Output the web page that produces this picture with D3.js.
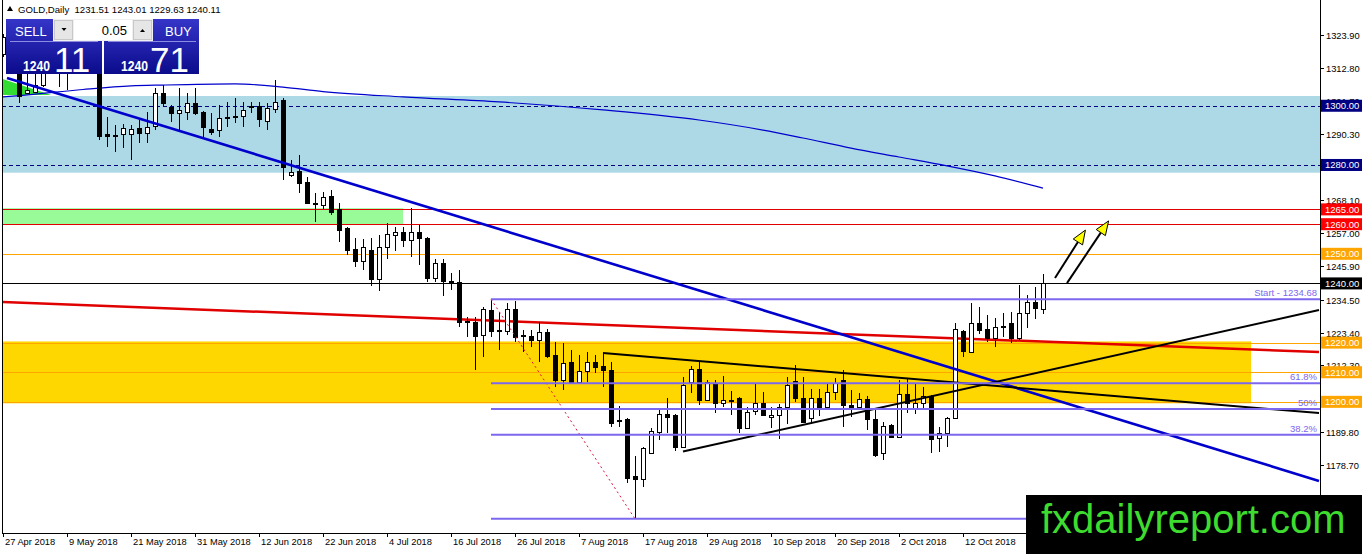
<!DOCTYPE html>
<html><head><meta charset="utf-8">
<script src="https://cdn.jsdelivr.net/npm/d3@7"></script>
<style>html,body{margin:0;padding:0;background:#fff;overflow:hidden}svg{display:block}</style>
</head><body><svg id="c" width="1362" height="554"></svg>
<script>
// ---------------- DATA ----------------
const symbolTitle = "GOLD,Daily";
const lastQuote = ["1231.51","1243.01","1229.63","1240.11"];
const openP = [1317.4,1323.2,1315.4,1304.3,1304.6,1307.0,1312.0,1314.5,1313.0,1313.5,1320.5,1319.0,1317.5,
1290.3,1290.2,1290.5,1290.5,1292.4,1290.7,1293.0,1304.2,1299.7,1297.5,1298.0,1301.1,1298.0,1292.0,1291.8,1296.0,
1296.2,1296.5,1299.8,1299.9,1295.0,1298.8,1302.0,1276.6,1278.0,1274.4,1267.2,1266.5,1269.5,1265.0,1258.6,1251.5,
1247.7,1251.3,1241.4,1252.2,1256.4,1257.5,1254.7,1257.5,1255.2,1241.7,1246.8,1240.9,1240.6,1227.3,1227.1,1222.6,
1231.0,1224.1,1224.0,1231.3,1222.7,1222.3,1220.9,1223.5,1215.8,1207.4,1213.4,1206.8,1210.5,1213.4,1212.1,1210.8,
1193.8,1194.1,1175.0,1173.8,1182.8,1189.9,1195.8,1195.6,1184.9,1206.8,1211.0,1200.6,1206.5,1199.7,1200.7,1201.2,
1191.1,1196.9,1199.7,1194.8,1195.6,1198.2,1207.0,1201.2,1194.4,1201.2,1198.2,1203.4,1207.4,1198.9,1198.4,1200.9,
1194.1,1182.6,1192.2,1188.2,1202.6,1197.8,1199.7,1202.0,1187.7,1189.4,1194.4,1223.9,1216.7,1226.7,1224.5,1221.7,
1225.5,1226.7,1221.5,1229.9,1233.8,1231.51];
const highP = [1324.4,1323.9,1316.0,1311.0,1316.5,1315.0,1316.8,1317.5,1317.0,1322.0,1325.0,1323.5,1318.5,
1296.3,1293.5,1293.8,1293.5,1295.2,1298.0,1305.9,1307.0,1300.3,1305.9,1304.2,1305.9,1298.3,1297.5,1300.3,1301.4,
1302.5,1301.4,1301.4,1301.4,1300.8,1308.7,1302.5,1281.7,1283.4,1276.1,1270.4,1270.8,1271.6,1267.0,1259.2,1255.3,
1255.0,1255.3,1256.4,1260.5,1259.2,1259.2,1265.4,1259.8,1255.8,1248.3,1248.3,1243.4,1244.5,1228.8,1228.8,1232.2,
1234.68,1230.5,1233.5,1234.2,1224.3,1224.3,1226.8,1224.5,1220.3,1219.8,1217.5,1215.8,1217.0,1215.8,1217.0,1213.6,
1198.6,1194.4,1181.7,1184.9,1191.1,1197.3,1201.2,1195.8,1208.5,1212.1,1213.9,1207.4,1207.4,1208.7,1203.8,1201.8,
1198.2,1206.3,1203.4,1198.4,1199.3,1208.5,1212.5,1208.5,1204.5,1204.5,1206.3,1207.9,1210.8,1204.0,1202.9,1202.0,
1197.2,1193.3,1192.4,1207.4,1207.9,1206.3,1205.1,1202.3,1191.6,1195.0,1226.5,1224.3,1233.3,1232.2,1229.3,1228.2,
1230.1,1230.5,1239.5,1236.1,1238.7,1243.01];
const lowP = [1316.6,1312.1,1301.0,1304.0,1304.2,1306.5,1311.0,1306.5,1305.3,1312.0,1316.5,1315.5,1288.4,
1286.0,1284.5,1285.6,1281.7,1287.3,1287.3,1291.8,1299.7,1294.6,1291.3,1295.2,1296.9,1289.6,1290.1,1289.3,1292.9,
1294.1,1292.9,1297.5,1292.9,1291.8,1297.5,1274.9,1276.1,1270.4,1267.1,1260.9,1265.0,1263.1,1254.0,1249.5,1245.6,
1244.5,1239.0,1237.5,1248.3,1250.8,1252.4,1248.8,1246.1,1240.6,1240.6,1235.9,1237.8,1225.4,1222.0,1210.8,1215.3,
1222.0,1217.5,1222.6,1220.3,1216.9,1218.6,1213.6,1214.7,1205.1,1204.0,1206.3,1206.6,1206.8,1209.6,1205.1,1191.4,
1191.6,1172.7,1160.5,1171.4,1182.6,1187.1,1189.4,1183.5,1184.3,1202.9,1198.9,1200.4,1196.1,1198.2,1195.6,1189.4,
1190.7,1195.6,1195.2,1191.1,1187.3,1192.5,1200.1,1192.7,1192.5,1195.2,1197.8,1200.6,1191.6,1195.0,1197.8,1190.5,
1181.5,1180.4,1187.7,1187.7,1196.1,1195.9,1197.2,1182.8,1183.2,1184.9,1194.1,1215.0,1216.4,1222.9,1220.3,1218.4,
1222.0,1220.0,1220.9,1224.8,1227.9,1229.63];
const closeP = [1323.2,1315.4,1303.3,1305.4,1307.0,1312.0,1314.5,1313.0,1313.5,1320.5,1319.0,1317.5,1289.8,
1289.9,1290.0,1292.4,1292.0,1290.7,1292.7,1304.2,1300.8,1297.5,1298.6,1300.8,1297.7,1292.7,1291.3,1295.8,1296.2,
1296.4,1298.6,1300.0,1295.4,1299.1,1301.4,1279.4,1277.7,1274.0,1267.3,1266.9,1269.1,1264.2,1258.0,1251.3,1247.7,
1252.2,1241.4,1252.4,1256.7,1257.5,1254.7,1257.5,1255.3,1241.7,1246.8,1240.9,1240.4,1227.1,1227.0,1222.3,1231.3,
1224.0,1223.9,1231.3,1222.0,1222.5,1220.9,1223.5,1215.6,1207.4,1213.0,1206.6,1210.5,1213.4,1211.9,1210.8,1193.0,
1193.5,1174.4,1173.8,1184.3,1190.2,1195.8,1195.0,1184.9,1205.7,1211.0,1200.6,1206.8,1199.7,1200.6,1200.5,1191.1,
1196.7,1199.7,1195.6,1195.6,1198.2,1205.7,1201.2,1193.3,1201.2,1198.2,1203.4,1206.3,1198.9,1198.2,1200.9,1194.1,
1182.0,1191.9,1188.2,1202.5,1199.7,1199.5,1202.0,1187.3,1189.4,1194.4,1224.5,1217.3,1226.5,1224.3,1221.7,1225.4,
1225.7,1221.7,1230.1,1233.6,1231.6,1240.11];

const dateTickBars = [0,8,16,24,32,40,48,56,64,72,80,88,96,104,112,120,128];
const dateTickLabels = ["27 Apr 2018","9 May 2018","21 May 2018","31 May 2018","12 Jun 2018","22 Jun 2018","4 Jul 2018",
"16 Jul 2018","26 Jul 2018","7 Aug 2018","17 Aug 2018","29 Aug 2018","10 Sep 2018","20 Sep 2018","2 Oct 2018","12 Oct 2018","24 Oct 2018"];
const priceTicks = ["1323.90","1312.80","1301.70","1290.30","1279.20","1268.10","1257.00","1245.90","1234.50",
"1223.40","1212.30","1201.20","1189.80","1178.70","1167.60"];

// horizontal levels
const levelValues = [1300,1280,1265,1260,1250,1240,1220,1210,1200];
const levelColors = ["#000080","#000080","#e00000","#e00000","#ffa500","#000000","#ffa500","#ffa500","#ffa500"];
const levelLabelBg = ["#000080","#000080","#ff0000","#ff0000","#ffa500","#000000","#ffa500","#ffa500","#ffa500"];
const levelDashed = [true,true,false,false,false,false,false,false,false];

// zones [barFrom, barTo, priceTop, priceBottom]
const blueZone = [-1, 165, 1303.3, 1277.4];
const greenZone = [-0.2, 50, 1265.4, 1260.0];
const yellowZone = [-0.2, 156, 1220.4, 1199.5];
const greenWedge = [[-0.2,1309.2],[6,1303.6],[-0.2,1303.6]];

// moving averages [bar, price]
const slowMA = [[0,1303.0],[2,1303.4],[10,1305.5],[16,1306.7],[20,1307.0],[29,1307.4],[35,1306.3],[40,1304.8],[50,1303.0],
[62,1301.3],[75,1298.6],[87,1295.2],[95,1291.8],[100,1289.1],[106,1285.7],[112,1282.7],[118,1279.7],[124,1276.3],[130,1272.2]];
const redMA = [[0,1233.7],[164.5,1216.8]];

// trend lines [bar, price]
const blueTrend = [[0.5,1309.4],[164.5,1173.3]];
const blackTrendDown = [[75,1216.5],[164.5,1196.2]];
const blackTrendUp = [[85,1183.2],[164.5,1231.0]];
const fibDiag = [[61,1234.68],[79,1160.5]];

// fibonacci levels
const fibStartBar = 61;
const fibValues = [1234.68,1206.3,1197.6,1188.9,1160.5];
const fibLabels = ["Start - 1234.68","61.8%","50%","38.2%",""];

// arrows [from, to] in [bar, price]
const arrows = [[[131.5,1241.8],[135.3,1258.0]],[[133,1240.1],[138.2,1261.1]]];

// ---------------- DRAW ----------------
const svg = d3.select("#c");
const PL=2, PR=1320, PB=533;
const x = d3.scaleLinear().domain([0,130]).range([3,1043]);
const y = d3.scaleLinear().domain([1323.9,1178.7]).range([35,464.9]);
const font = "'Liberation Sans', Arial, sans-serif";

svg.append("rect").attr("width",1362).attr("height",554).attr("fill","#fff");
const defs = svg.append("defs");
defs.append("clipPath").attr("id","plot").append("rect").attr("x",PL+0.5).attr("y",0).attr("width",PR-PL-0.5).attr("height",PB);
const g = svg.append("g").attr("clip-path","url(#plot)");

function zone(z, fill){
  g.append("rect").attr("x",x(z[0])).attr("y",y(z[2])).attr("width",x(z[1])-x(z[0])).attr("height",y(z[3])-y(z[2])).attr("fill",fill);
}
zone(blueZone,"#add8e6");
zone(greenZone,"#98fb98");
zone(yellowZone,"#ffd700");
g.append("path").attr("d",d3.line().x(d=>x(d[0])).y(d=>y(d[1]))(greenWedge)+"Z").attr("fill","#32dc32");

levelValues.forEach((v,i)=>{
  const yy = Math.round(y(v))+0.5;
  g.append("line").attr("x1",PL).attr("x2",PR).attr("y1",yy).attr("y2",yy)
   .attr("stroke",levelColors[i]).attr("stroke-width",1)
   .attr("stroke-dasharray",levelDashed[i]?"4,3":null);
});

const line = d3.line().x(d=>x(d[0])).y(d=>y(d[1]));
g.append("path").attr("d",d3.line().curve(d3.curveMonotoneX).x(d=>x(d[0])).y(d=>y(d[1]))(slowMA))
 .attr("fill","none").attr("stroke","#0000cd").attr("stroke-width",1.2);
g.append("path").attr("d",line(redMA)).attr("fill","none").attr("stroke","#e00000").attr("stroke-width",2.5);

// candles
const bars = d3.range(openP.length).map(i=>({i,o:openP[i],h:highP[i],l:lowP[i],c:closeP[i]}));
const cg = g.append("g").attr("shape-rendering","crispEdges");
bars.forEach(b=>{
  const cx = Math.round(x(b.i))+0.5;
  cg.append("line").attr("x1",cx).attr("x2",cx).attr("y1",y(b.h)).attr("y2",y(b.l)).attr("stroke","#000");
  const top = Math.round(y(Math.max(b.o,b.c))), bot = Math.round(y(Math.min(b.o,b.c)));
  const bull = b.c >= b.o;
  cg.append("rect").attr("x",cx-2).attr("y",top+0.5).attr("width",4).attr("height",Math.max(1,bot-top))
    .attr("fill",bull?"#fff":"#000").attr("stroke","#000").attr("stroke-width",1);
});

// trend lines
g.append("path").attr("d",line(blueTrend)).attr("stroke","#0000cd").attr("stroke-width",2.6).attr("fill","none");
g.append("path").attr("d",line(blackTrendDown)).attr("stroke","#000").attr("stroke-width",2).attr("fill","none");
g.append("path").attr("d",line(blackTrendUp)).attr("stroke","#000").attr("stroke-width",2).attr("fill","none");
g.append("path").attr("d",line(fibDiag)).attr("stroke","#dc143c").attr("stroke-width",1).attr("stroke-dasharray","2,3").attr("fill","none");

// fib levels
fibValues.forEach((v,i)=>{
  const yy = y(v);
  g.append("line").attr("x1",x(fibStartBar)).attr("x2",PR).attr("y1",yy).attr("y2",yy).attr("stroke","#7b68ee").attr("stroke-width",2);
  if(fibLabels[i]) g.append("text").attr("x",PR-3).attr("y",yy-3).attr("text-anchor","end")
    .attr("font-family",font).attr("font-size",9.5).attr("fill","#7b68ee").text(fibLabels[i]);
});

// arrows
arrows.forEach(a=>{
  const x1=x(a[0][0]),y1=y(a[0][1]),x2=x(a[1][0]),y2=y(a[1][1]);
  const ang=Math.atan2(y2-y1,x2-x1), L=14, Wd=5.5;
  const bx=x2-L*Math.cos(ang), by=y2-L*Math.sin(ang);
  g.append("line").attr("x1",x1).attr("y1",y1).attr("x2",bx).attr("y2",by).attr("stroke","#000").attr("stroke-width",2);
  const p=[[x2,y2],[bx+Wd*Math.sin(ang),by-Wd*Math.cos(ang)],[bx-Wd*Math.sin(ang),by+Wd*Math.cos(ang)]];
  g.append("path").attr("d","M"+p.map(q=>q.join(",")).join("L")+"Z").attr("fill","#ffff00").attr("stroke","#000").attr("stroke-width",1);
});

// axes
svg.append("line").attr("x1",PL+0.5).attr("x2",PL+0.5).attr("y1",0).attr("y2",PB).attr("stroke","#000");
svg.append("line").attr("x1",PR+0.5).attr("x2",PR+0.5).attr("y1",0).attr("y2",PB+0.5).attr("stroke","#000");
svg.append("line").attr("x1",PL).attr("x2",PR+1).attr("y1",PB+0.5).attr("y2",PB+0.5).attr("stroke","#000");
priceTicks.forEach(t=>{
  const yy=Math.round(y(+t))+0.5;
  svg.append("line").attr("x1",PR).attr("x2",PR+4).attr("y1",yy).attr("y2",yy).attr("stroke","#000");
  svg.append("text").attr("x",PR+6).attr("y",yy+3.5).attr("font-family",font).attr("font-size",9.3).attr("fill","#000").text(t);
});
dateTickBars.forEach((b,i)=>{
  const xx=Math.round(x(b))+0.5;
  svg.append("line").attr("x1",xx).attr("x2",xx).attr("y1",PB).attr("y2",PB+4).attr("stroke","#000");
  svg.append("text").attr("x",xx+1.5).attr("y",PB+12).attr("font-family",font).attr("font-size",9.3).attr("fill","#000").text(dateTickLabels[i]);
});
levelValues.forEach((v,i)=>{
  const yy=y(v);
  svg.append("rect").attr("x",PR+1).attr("y",yy-6).attr("width",42).attr("height",12).attr("fill",levelLabelBg[i]);
  svg.append("text").attr("x",PR+5).attr("y",yy+3.5).attr("font-family",font).attr("font-size",9.5).attr("fill","#fff").text(v.toFixed(2));
});

// header
svg.append("path").attr("d","M7,11L10,6L13,11Z").attr("fill","#000");
svg.append("text").attr("x",18).attr("y",13).attr("font-family",font).attr("font-size",9.6).attr("fill","#000")
  .attr("xml:space","preserve").text(symbolTitle+"  "+lastQuote.join(" "));

// one-click trading panel
const grad = defs.append("linearGradient").attr("id","bg").attr("x1",0).attr("x2",0).attr("y1",0).attr("y2",1);
grad.append("stop").attr("offset","0%").attr("stop-color","#3535c8");
grad.append("stop").attr("offset","100%").attr("stop-color","#0b0b8c");
const panel = svg.append("g");
panel.append("rect").attr("x",6).attr("y",19).attr("width",96).attr("height",55).attr("fill","url(#bg)");
panel.append("rect").attr("x",104).attr("y",19).attr("width",95).attr("height",55).attr("fill","url(#bg)");
panel.append("line").attr("x1",10).attr("x2",98).attr("y1",41.5).attr("y2",41.5).attr("stroke","#8c8ce0").attr("stroke-width",1);
panel.append("line").attr("x1",108).attr("x2",196).attr("y1",41.5).attr("y2",41.5).attr("stroke","#8c8ce0").attr("stroke-width",1);
panel.append("rect").attr("x",53).attr("y",19).attr("width",100).attr("height",22).attr("fill","#f0f0f0");
panel.append("rect").attr("x",54.5).attr("y",20.5).attr("width",18).attr("height",19).attr("fill","#e6e6e6").attr("stroke","#c8c8c8");
panel.append("rect").attr("x",133.5).attr("y",20.5).attr("width",18).attr("height",19).attr("fill","#e6e6e6").attr("stroke","#c8c8c8");
panel.append("rect").attr("x",74).attr("y",20).attr("width",58).attr("height",20).attr("fill","#fff");
panel.append("path").attr("d","M61.5,28L66.5,28L64,31Z").attr("fill","#000");
panel.append("path").attr("d","M140,32L145,32L142.5,29Z").attr("fill","#000");
panel.append("text").attr("x",127).attr("y",35).attr("text-anchor","end").attr("font-family",font).attr("font-size",13).attr("fill","#000").text("0.05");
panel.append("text").attr("x",15).attr("y",35.5).attr("font-family",font).attr("font-size",13).attr("fill","#fff").text("SELL");
panel.append("text").attr("x",165).attr("y",35.5).attr("font-family",font).attr("font-size",13).attr("fill","#fff").text("BUY");
panel.append("text").attr("x",23).attr("y",71).attr("font-family",font).attr("font-size",14.5).attr("font-weight","bold")
  .attr("textLength",27).attr("lengthAdjust","spacingAndGlyphs").attr("fill","#fff").text("1240");
panel.append("text").attr("x",54).attr("y",71.5).attr("font-family",font).attr("font-size",35).attr("fill","#fff").text("11");
panel.append("text").attr("x",121).attr("y",71).attr("font-family",font).attr("font-size",14.5).attr("font-weight","bold")
  .attr("textLength",27).attr("lengthAdjust","spacingAndGlyphs").attr("fill","#fff").text("1240");
panel.append("text").attr("x",150).attr("y",71.5).attr("font-family",font).attr("font-size",35).attr("fill","#fff").text("71");

// watermark
svg.append("rect").attr("x",1026).attr("y",495).attr("width",336).attr("height",59).attr("fill","#000");
svg.append("text").attr("x",1041).attr("y",533).attr("font-family",font).attr("font-size",40).attr("fill","#3ddc2f").text("fxdailyreport.com");
</script>
</body></html>
